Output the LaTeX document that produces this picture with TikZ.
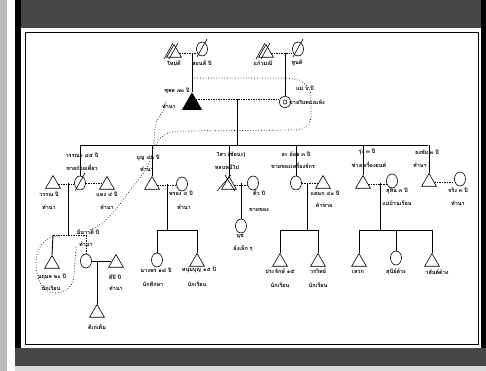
\documentclass[tikz,border=0pt]{standalone}
\usepackage{fontspec}
\newfontfamily\thai[Script=Thai]{Loma}
\usetikzlibrary{shapes.geometric,calc}
\begin{document}
\begin{tikzpicture}[x=1pt,y=-1pt,
  male/.style={regular polygon, regular polygon sides=3, minimum size=17pt, inner sep=0pt, draw, line width=0.6pt, fill=white},
  female/.style={ellipse, minimum width=11pt, minimum height=14pt, inner sep=0pt, draw, line width=0.6pt, fill=white},
  lab/.style={font=\thai\bfseries\fontsize{5.5}{6.5}\selectfont, inner sep=0pt},
  desc/.style={line width=0.9pt},
  marr/.style={line width=0.5pt, dash pattern=on 1.5pt off 1pt},
  bound/.style={line width=0.7pt, dotted},
  dead/.style={line width=0.6pt}]
\useasboundingbox (0,0) rectangle (486,371);
% scanned frame
\fill[gray!55] (0,0) rectangle (7,371);
\fill[white] (7,0) rectangle (15,371);
\fill[black!72] (15,0) rectangle (486,28);
\fill[black] (15,0) rectangle (21,367);
\fill[black] (481,0) rectangle (486,367);
\fill[black!72] (15,348) rectangle (486,366);
\fill[gray!30] (15,366) rectangle (486,371);
\fill[white] (21,28) rectangle (481,348);
\draw[line width=0.7pt] (25,32) rectangle (478,344);

% dotted boundaries
\draw[bound] (192,78) -- (285,78) to[out=0,in=90] (311,96) -- (311,116) to[out=-90,in=0] (297,130) -- (185,131) to[out=180,in=70] (156,145);
\draw[bound] (166,102) to[out=-100,in=90] (155,130) -- (153,150) to[out=-100,in=55] (125,197) to[out=-125,in=10] (78,233);
\draw[bound] (58,236) to[out=180,in=90] (36,262) to[out=-90,in=180] (55,293) to[out=0,in=-90] (74,276) to[out=90,in=-90] (76,246);

% generation I
\node[male] (tA) at (174,53) {};
\node[female] (cA) at (202,49) {};
\node[male] (tB) at (266,53) {};
\node[female] (cB) at (298,49) {};
\draw[dead] ([shift={(-10,6)}]tA.center) -- ([shift={(-1,-10)}]tA.center);
\draw[dead] ([shift={(-5,6)}]tA.center) -- ([shift={(4,-10)}]tA.center);
\draw[dead] ([shift={(-10,6)}]tB.center) -- ([shift={(-1,-10)}]tB.center);
\draw[dead] ([shift={(-5,6)}]tB.center) -- ([shift={(4,-10)}]tB.center);
\draw[dead] ([shift={(-5,8)}]cA.center) -- ([shift={(5,-10)}]cA.center);
\draw[dead] ([shift={(-5,8)}]cB.center) -- ([shift={(5,-10)}]cB.center);
\draw[marr] (tA.east) -- (tA.east -| cA.west);
\draw[marr] (tB.east) -- (tB.east -| cB.west);
\node[lab] at (174,63) {ใหม่ดี};
\node[lab] at (202,63) {สอนดี ปี};
\node[lab] at (263,63) {แก้วมณี};
\node[lab] at (297,63) {ทูนดี};

% generation II (ego)
\node[male, fill=black, minimum size=22pt] (ego) at (192,104) {};
\node[female, minimum height=12pt] (wife) at (285,102) {};
\node[circle, draw, line width=0.5pt, minimum size=4pt, inner sep=0pt] (wdot) at (wife.center) {};
\draw[desc] (ego.corner 1 |- tA.east) -- (ego.corner 1);
\draw[desc] (wife.north |- tB.east) -- (wife.north);
\coordinate (em) at ($(ego.corner 1)!0.37!(ego.corner 3)$);
\draw[marr] (em) -- (em -| wife.west);
\node[lab] at (177,91) {ชุพล ๗๐ ปี};
\node[lab] at (169,106) {ทำนา};
\node[lab] at (305,88) {แม่ ๖ ปี};
\node[lab] at (307,102) {ขายใบตองแห้ง};
\coordinate (eu) at (237,99);
\coordinate (sibL) at (80,145);
\coordinate (sibR) at (428,145);
\draw[desc] (eu) -- (eu |- sibL);
\draw[desc] (sibL) -- (sibR);

% child 1
\node[female] (c1) at (80,183) {};
\node[male] (s1a) at (53,184) {};
\node[male] (s1b) at (107,185) {};
\draw[dead] ([shift={(-5,8)}]c1.center) -- ([shift={(5,-10)}]c1.center);
\draw[desc] (c1.north |- sibL) -- (c1.north);
\draw[marr] (s1a.east) -- (s1a.east -| c1.west);
\draw[marr] (c1.east) -- (c1.east -| s1b.west);
\coordinate (u1) at (68,183);
\coordinate (gl1) at (53,235);
\coordinate (gl2) at (86,235);
\draw[desc] (u1) -- (u1 |- gl1);
\draw[marr] (gl1) -- (gl2);
\node[lab] at (82,155) {วรรณา ๔๕ ปี};
\node[lab] at (82,168) {ขายก๋วยเตี๋ยว};
\node[lab] at (49,194) {วรรณ ปี};
\node[lab] at (49,207) {ทำนา};
\node[lab] at (107,194) {แดง ๔ ปี};
\node[lab] at (107,207) {ทำนา};

% grandchildren of child 1
\node[male] (g1) at (52,264) {};
\node[female] (g2) at (86,261) {};
\node[male] (g2h) at (116,263) {};
\draw[desc] (gl1) -- (g1.corner 1);
\draw[marr] (gl2) -- (g2.north);
\draw[desc] (g2.east) -- (g2.east -| g2h.west);
\coordinate (u2g) at (97,261);
\node[male] (gg) at (97,313) {};
\draw[desc] (u2g) -- (gg.corner 1);
\node[lab, fill=white] at (88,232) {มีนาวดี ปี};
\node[lab] at (86,244) {ทำนา};
\node[lab] at (52,277) {นฤมล ๒๐ ปี};
\node[lab] at (51,288) {นักเรียน};
\node[lab] at (115,277) {สีปี ปี};
\node[lab] at (116,288) {ทำนา};
\node[lab] at (97,327) {ดีเก่เต็ม};

% child 2
\node[male] (t2) at (152,185) {};
\node[female] (w2) at (182,184) {};
\draw[desc] (t2.corner 1 |- sibL) -- (t2.corner 1);
\draw[marr] (t2.east) -- (t2.east -| w2.west);
\coordinate (u2) at (167,184);
\coordinate (l2a) at (157,230);
\coordinate (l2b) at (197,230);
\draw[desc] (u2) -- (u2 |- l2a);
\draw[desc] (l2a) -- (l2b);
\node[female] (k21) at (157,260) {};
\node[male] (k22) at (197,262) {};
\draw[desc] (l2a) -- (k21.north);
\draw[desc] (l2b) -- (k22.corner 1);
\node[lab] at (148,158) {บุญ ๔๓ ปี};
\node[lab] at (147,169) {ทำนา};
\node[lab] at (181,193) {พรอง ๔ ปี};
\node[lab] at (184,207) {ทำนา};
\node[lab] at (156,270) {นางพร ๑๘ ปี};
\node[lab] at (153,284) {นักศึกษา};
\node[lab] at (199,270) {หนุ่มบุญ ๑๕ ปี};
\node[lab] at (197,284) {นักเรียน};

% child 3
\node[male] (t3) at (229,185) {};
\node[female] (w3) at (253,183) {};
\draw[dead] ([shift={(-12,6)}]t3.center) -- ([shift={(2,-10)}]t3.center);
\draw[dead] ([shift={(-4,-10)}]t3.center) -- ([shift={(6,6)}]t3.center);
\draw[desc] (t3.corner 1 |- sibL) -- (t3.corner 1);
\draw[marr] (t3.east) -- (t3.east -| w3.west);
\node[female] (k31) at (241,226) {};
\coordinate (u3) at (241,183);
\draw[desc] (u3) -- (k31.north);
\node[lab] at (231,155) {ไสว (ชัยนะ)};
\node[lab] at (227,167) {หลบหนีไป};
\node[lab] at (259,193) {ติ๋ว ปี};
\node[lab] at (259,210) {ขายของ};
\node[lab] at (240,237) {นุช};
\node[lab] at (243,248) {ยังเล็ก ๆ};

% child 4
\node[female] (c4) at (296,183) {};
\node[male] (h4) at (323,184) {};
\draw[desc] (c4.north |- sibL) -- (c4.north);
\draw[marr] (c4.east) -- (c4.east -| h4.west);
\coordinate (u4) at (307,183);
\coordinate (l4a) at (280,230);
\coordinate (l4b) at (318,230);
\draw[desc] (u4) -- (u4 |- l4a);
\draw[desc] (l4a) -- (l4b);
\node[male] (k41) at (280,262) {};
\node[male] (k42) at (318,262) {};
\draw[desc] (l4a) -- (k41.corner 1);
\draw[desc] (l4b) -- (k42.corner 1);
\node[lab] at (296,154) {ละ อ้อย ๓ ปี};
\node[lab] at (293,166) {ขายของเครื่องจักร};
\node[lab] at (325,193) {แผนก ๔๐ ปี};
\node[lab] at (324,205) {ค้าขาย};
\node[lab] at (280,271) {ประจักษ์ ๑๕};
\node[lab] at (280,285) {นักเรียน};
\node[lab] at (318,271) {วรวิทย์};
\node[lab] at (318,285) {นักเรียน};

% child 5
\node[male] (t5) at (363,184) {};
\node[female] (w5) at (392,181) {};
\draw[desc] (t5.corner 1 |- sibL) -- (t5.corner 1);
\draw[marr] (t5.east) -- (t5.east -| w5.west);
\coordinate (u5) at (380,183);
\coordinate (l5a) at (359,230);
\coordinate (l5b) at (396,230);
\coordinate (l5c) at (432,230);
\draw[desc] (u5) -- (u5 |- l5a);
\draw[desc] (l5a) -- (l5c);
\node[male] (k51) at (359,262) {};
\node[female] (k52) at (396,258) {};
\node[male] (k53) at (432,262) {};
\draw[desc] (l5a) -- (k51.corner 1);
\draw[desc] (l5b) -- (k52.north);
\draw[desc] (l5c) -- (k53.corner 1);
\node[lab] at (367,152) {รุ่ง ๓ ปี};
\node[lab] at (369,165) {ช่างเครื่องยนต์};
\node[lab] at (397,191) {สุทิน ๓ ปี};
\node[lab] at (397,203) {แม่บ้านเรือน};
\node[lab] at (358,272) {เสวก};
\node[lab] at (396,272) {สุนีย์ด้วง};
\node[lab] at (437,272) {วสันต์ด้วง};

% child 6
\node[male] (t6) at (429,182) {};
\node[female] (w6) at (460,179) {};
\draw[desc] (t6.corner 1 |- sibR) -- (t6.corner 1);
\draw[marr] (t6.east) -- (t6.east -| w6.west);
\node[lab] at (427,152) {ธงชัย ๓ ปี};
\node[lab] at (420,165) {ทำนา};
\node[lab] at (458,190) {จริง ๓ ปี};
\node[lab] at (458,203) {ทำนา};
\end{tikzpicture}
\end{document}
